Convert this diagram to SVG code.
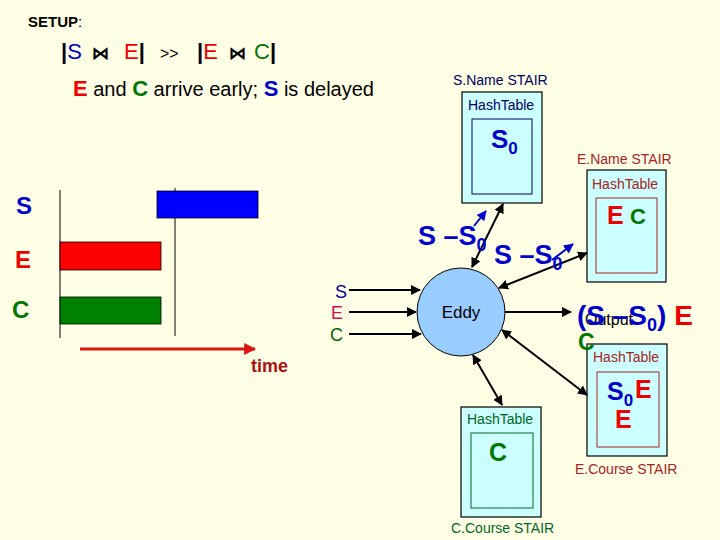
<svg xmlns="http://www.w3.org/2000/svg" width="720" height="540" viewBox="0 0 720 540">
<defs>
<style>
text{font-family:"Liberation Sans",Arial,sans-serif}
.b{font-weight:bold}
.blue{fill:#0000CC}
.red{fill:#EE0000}
.grn{fill:#007700}
.box{fill:#CCFFFF;stroke:#000;stroke-width:1.2}
.ln{stroke:#000;stroke-width:2;fill:none}
.lbl{font-size:14px}
</style>
<marker id="ah" viewBox="0 0 10 10" refX="9" refY="5" markerWidth="5" markerHeight="5" orient="auto-start-reverse"><path d="M0,0L10,5L0,10z" fill="#000"/></marker>
<marker id="ahb" viewBox="0 0 10 10" refX="9" refY="5" markerWidth="5" markerHeight="5" orient="auto"><path d="M0,0L10,5L0,10z" fill="#0000CC"/></marker>
<marker id="ahr" viewBox="0 0 10 10" refX="9" refY="5" markerWidth="4" markerHeight="4" orient="auto"><path d="M0,0L10,5L0,10z" fill="#DD1111"/></marker>
</defs>
<rect width="720" height="540" fill="#FFFFE6"/>

<g id="title">
<text x="28" y="27" class="b" font-size="15">SETUP<tspan font-weight="normal">:</tspan></text>
<text y="59" font-size="22"><tspan x="61" class="b">|</tspan><tspan class="blue">S</tspan><tspan x="92" class="b" font-size="17">⋈</tspan><tspan x="124" class="red">E</tspan><tspan class="b">|</tspan><tspan x="160" font-size="16">&gt;&gt;</tspan><tspan x="197" class="b">|</tspan><tspan class="red">E</tspan><tspan x="229" class="b" font-size="17">⋈</tspan><tspan x="254" class="grn">C</tspan><tspan class="b">|</tspan></text>
<text x="73" y="96" font-size="20"><tspan class="red b" font-size="22">E</tspan> and <tspan class="grn b" font-size="22">C</tspan> arrive early; <tspan class="blue b" font-size="22">S</tspan> is delayed</text>
</g>

<g id="timeline">
<line x1="60" y1="190" x2="60" y2="338" stroke="#000" stroke-width="1"/>
<line x1="175" y1="188" x2="175" y2="336" stroke="#000" stroke-width="1"/>
<rect x="157" y="191" width="101" height="27" fill="#0000FF" stroke="#000" stroke-width="0.8"/>
<rect x="60" y="242" width="101" height="28" fill="#FF0000" stroke="#000" stroke-width="0.8"/>
<rect x="60" y="297" width="101" height="27" fill="#008000" stroke="#000" stroke-width="0.8"/>
<text x="16" y="214" class="b blue" font-size="24">S</text>
<text x="15" y="268" class="b red" font-size="24">E</text>
<text x="12" y="318" class="b grn" font-size="24">C</text>
<line x1="80" y1="349" x2="255" y2="349" stroke="#DD1111" stroke-width="3" marker-end="url(#ahr)"/>
<text x="251" y="372" class="b" font-size="18" fill="#AA1111">time</text>
</g>

<g id="snamebox">
<text x="453" y="85" class="lbl" fill="#000066">S.Name STAIR</text>
<rect x="462" y="92" width="80" height="111" class="box"/>
<rect x="472" y="119" width="60" height="75" fill="none" stroke="#000066" stroke-width="1"/>
<text x="468" y="110" class="lbl" fill="#000066">HashTable</text>
<text x="491" y="148" class="b blue" font-size="26">S<tspan font-size="17" dy="6">0</tspan></text>
</g>

<g id="enamebox">
<text x="577" y="164" class="lbl" fill="#AA2222">E.Name STAIR</text>
<rect x="587" y="170" width="79" height="112" class="box"/>
<rect x="596" y="198" width="61" height="75" fill="none" stroke="#AA2222" stroke-width="1"/>
<text x="592" y="189" class="lbl" fill="#AA2222">HashTable</text>
<text x="607" y="224" class="b red" font-size="25">E</text>
<text x="630" y="224" class="b grn" font-size="22">C</text>
</g>

<g id="ecoursebox">
<rect x="587" y="344" width="80" height="112" class="box"/>
<rect x="597" y="372" width="62" height="75" fill="none" stroke="#AA2222" stroke-width="1"/>
<text x="593" y="362" class="lbl" fill="#AA2222">HashTable</text>
<text x="607" y="400" class="b blue" font-size="25">S<tspan font-size="17" dy="6">0</tspan></text>
<text x="635" y="398" class="b red" font-size="25">E</text>
<text x="615" y="428" class="b red" font-size="25">E</text>
<text x="575" y="474" class="lbl" fill="#AA2222">E.Course STAIR</text>
</g>

<g id="ccoursebox">
<rect x="461" y="407" width="80" height="110" class="box"/>
<rect x="471" y="433" width="62" height="75" fill="none" stroke="#006622" stroke-width="1"/>
<text x="467" y="424" class="lbl" fill="#006622">HashTable</text>
<text x="489" y="461" class="b grn" font-size="25">C</text>
<text x="451" y="533" class="lbl" fill="#006622">C.Course STAIR</text>
</g>

<g id="eddy">
<circle cx="461" cy="312" r="44" fill="#99CCFF" stroke="#000" stroke-width="1"/>
<text x="461" y="318" font-size="17" text-anchor="middle" fill="#000">Eddy</text>
</g>

<g id="connectors">
<line x1="349" y1="290" x2="420" y2="290" class="ln" marker-end="url(#ah)"/>
<line x1="349" y1="312" x2="416" y2="312" class="ln" marker-end="url(#ah)"/>
<line x1="349" y1="334" x2="421" y2="334" class="ln" marker-end="url(#ah)"/>
<line x1="505" y1="312" x2="571" y2="312" class="ln" marker-end="url(#ah)"/>
<line x1="472" y1="267" x2="503" y2="204" class="ln" marker-start="url(#ah)" marker-end="url(#ah)"/>
<line x1="499" y1="288" x2="587" y2="253" class="ln" marker-start="url(#ah)" marker-end="url(#ah)"/>
<line x1="502" y1="330" x2="587" y2="395" class="ln" marker-start="url(#ah)" marker-end="url(#ah)"/>
<line x1="473" y1="355" x2="502" y2="405" class="ln" marker-start="url(#ah)" marker-end="url(#ah)"/>
<line x1="474" y1="226" x2="486" y2="211" stroke="#0000CC" stroke-width="2" marker-end="url(#ahb)"/>
<line x1="552" y1="260" x2="573" y2="244" stroke="#0000CC" stroke-width="2" marker-end="url(#ahb)"/>
</g>

<g id="labels">
<text x="335" y="298" font-size="18" fill="#000099">S</text>
<text x="331" y="319" font-size="18" fill="#CC1155">E</text>
<text x="330" y="341" font-size="18" fill="#006600">C</text>
<text x="418" y="245" class="b blue" font-size="27">S –S<tspan font-size="18" dy="6">0</tspan></text>
<text x="494" y="264" class="b blue" font-size="27">S –S<tspan font-size="18" dy="6">0</tspan></text>
<text x="585" y="325" font-size="16" fill="#000">Output</text>
<text x="577" y="325" class="b" font-size="28"><tspan class="blue">(S –S</tspan><tspan class="blue" font-size="18" dy="6">0</tspan><tspan class="blue" dy="-6">)</tspan> <tspan class="red">E</tspan></text>
<text x="578" y="350" class="b grn" font-size="23">C</text>
</g>
</svg>
